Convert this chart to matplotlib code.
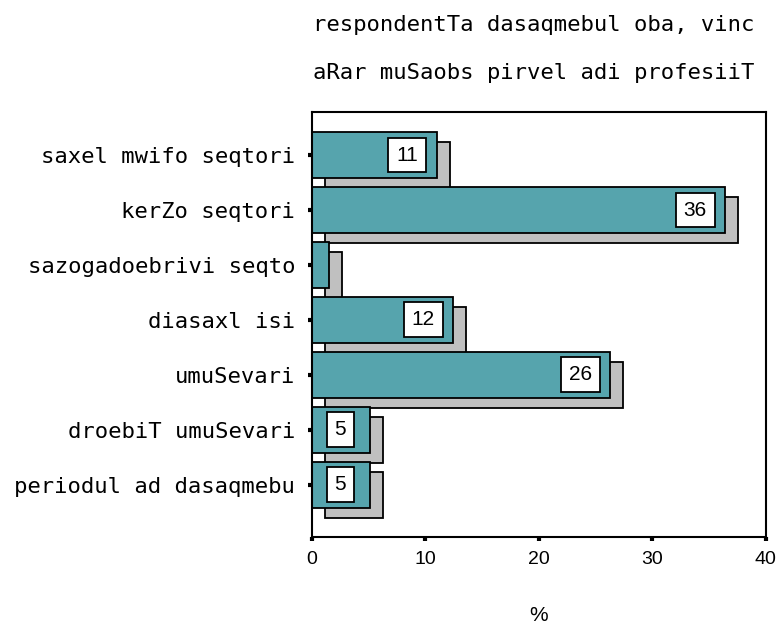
import matplotlib.pyplot as plt
import numpy as np

# data
categories = ["saxel mwifo seqtori", "kerZo seqtori", "sazogadoebrivi seqto",
              "diasaxl isi", "umuSevari", "droebiT umuSevari", "periodul ad dasaqmebu"]
values = [11.0, 36.4, 1.5, 12.4, 26.3, 5.1, 5.1]
title_lines = ["respondentTa dasaqmebul oba, vinc", "aRar muSaobs pirvel adi profesiiT"]
xticks = [0, 10, 20, 30, 40]

teal = "#56a4ad"
grey = "#c0c0c0"
mono = "DejaVu Sans Mono"
sans = "Liberation Sans"

fig = plt.figure(figsize=(7.78, 6.26), dpi=100)
ax = fig.add_axes([0.401, 0.1427, 0.583, 0.6789])

y = np.arange(len(categories))
h = 0.84
# shadow bars, shifted right and down
ax.barh(y + 0.18, values, height=h, left=1.15, color=grey,
        edgecolor="black", linewidth=1.3, zorder=1)
ax.barh(y, values, height=h, color=teal, edgecolor="black",
        linewidth=1.3, zorder=2)

for yi, v in zip(y, values):
    if v < 3:
        continue
    ax.text(v - 2.6, yi, f"{v:.0f}", ha="center", va="center",
            fontsize=15, family=sans, zorder=3,
            bbox=dict(boxstyle="square,pad=0.38", fc="white",
                      ec="black", lw=1.3))

ax.set_xlim(0, 40)
ax.set_ylim(len(categories) - 1 + 0.946, -0.79)
ax.set_xticks(xticks)
ax.set_xticklabels([str(t) for t in xticks], family=sans, fontsize=14)
ax.set_yticks(y)
ax.set_yticklabels(categories, family=mono, fontsize=16)
ax.tick_params(axis="y", length=3, width=3, pad=9, direction="out")
ax.tick_params(axis="x", length=3, width=3, pad=7, direction="out")
for s in ax.spines.values():
    s.set_linewidth(1.5)

ax.set_xlabel("%", family=sans, fontsize=15, labelpad=28)

fig.text(0.402, 0.96, title_lines[0], family=mono, fontsize=16,
         ha="left", va="center")
fig.text(0.402, 0.883, title_lines[1], family=mono, fontsize=16,
         ha="left", va="center")

fig.savefig("out.png", dpi=100)
